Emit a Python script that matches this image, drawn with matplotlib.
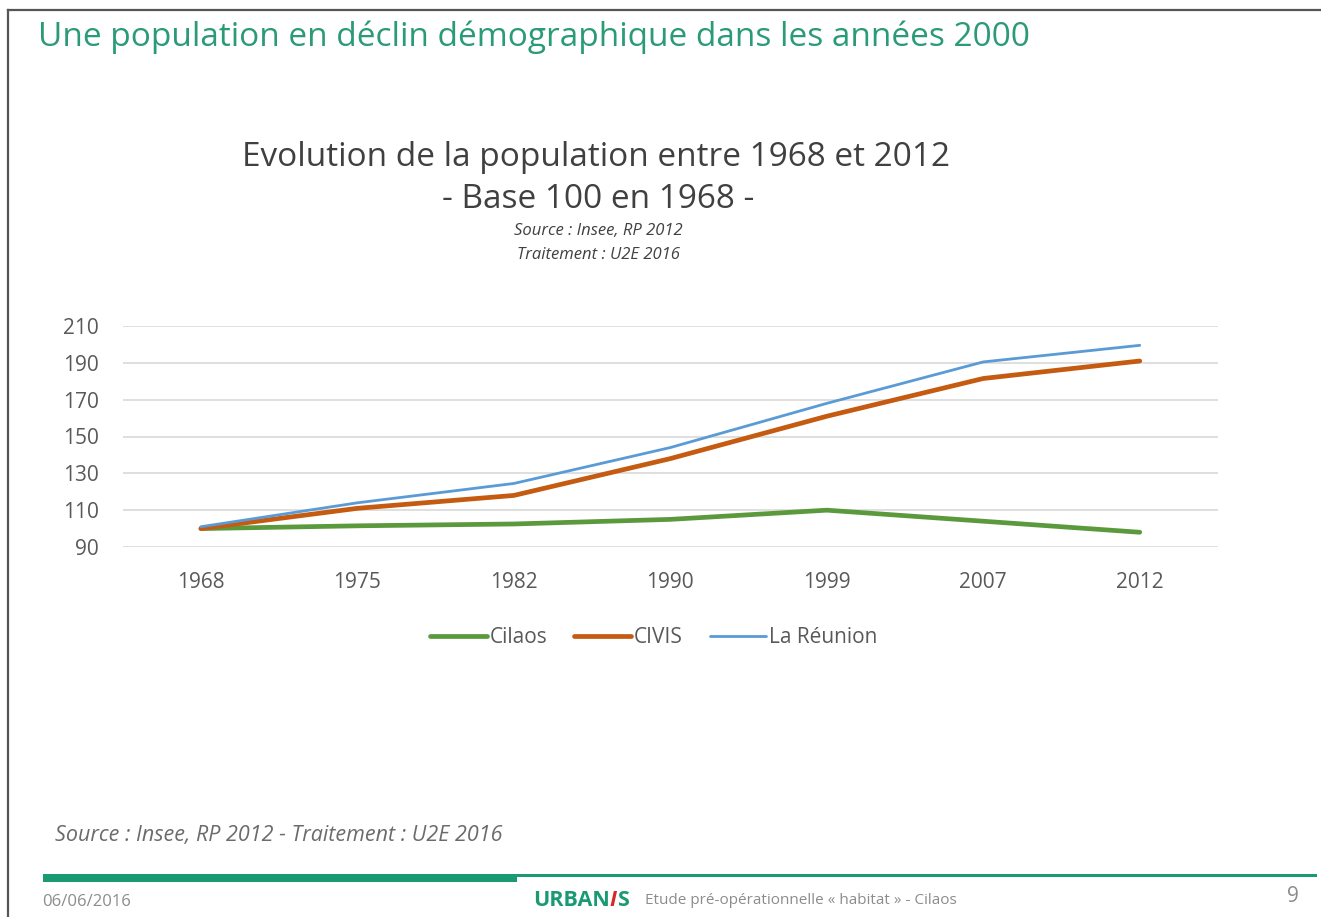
import matplotlib.pyplot as plt
from matplotlib.lines import Line2D
from matplotlib.patches import Rectangle

years = ["1968", "1975", "1982", "1990", "1999", "2007", "2012"]
cilaos = [100, 101.5, 102.5, 105, 110, 104, 98]
civis = [100, 111, 118, 138, 161, 181.5, 191]
reunion = [101, 114, 124.5, 144, 168, 190.5, 199.5]
yticks = [90, 110, 130, 150, 170, 190, 210]

W, H = 1321, 917
GREEN = "#2a9a78"
TEAL = "#1a9a72"
GREY = "#595959"
plt.rcParams["font.family"] = ["Open Sans", "DejaVu Sans"]

fig = plt.figure(figsize=(W / 100, H / 100), dpi=100)


def fx(px):
    return px / W


def fy(py):
    return 1 - py / H


# slide frame (top and left edges)
fig.lines.append(Line2D([fx(8), 1], [fy(10), fy(10)], transform=fig.transFigure,
                        color="#555555", lw=1.6))
fig.lines.append(Line2D([fx(8), fx(8)], [fy(10), 0], transform=fig.transFigure,
                        color="#555555", lw=1.6))

fig.text(fx(38), fy(37), "Une population en déclin démographique dans les années 2000",
         color=GREEN, fontsize=24, va="center", ha="left")

fig.text(fx(596), fy(157), "Evolution de la population entre 1968 et 2012",
         color="#404040", fontsize=24, ha="center", va="center")
fig.text(fx(598), fy(199), "- Base 100 en 1968 -",
         color="#404040", fontsize=24, ha="center", va="center")
fig.text(fx(598), fy(231), "Source : Insee, RP 2012", color="#404040",
         fontsize=12, style="italic", ha="center", va="center")
fig.text(fx(598), fy(255), "Traitement : U2E 2016", color="#404040",
         fontsize=12, style="italic", ha="center", va="center")

ax = fig.add_axes([fx(122.7), fy(547), (1218 - 122.7) / W, 221 / H])
x = range(len(years))
ax.plot(x, cilaos, color="#5b9a3c", lw=3.4, label="Cilaos", solid_capstyle="round")
ax.plot(x, civis, color="#c55a11", lw=3.4, label="CIVIS", solid_capstyle="round")
ax.plot(x, reunion, color="#5b9bd5", lw=2.0, label="La Réunion", solid_capstyle="round")
ax.set_xlim(-0.5, len(years) - 0.5)
ax.set_ylim(90, 210)
ax.set_yticks(yticks)
ax.set_xticks(list(x))
ax.set_xticklabels(years)
ax.grid(axis="y", color="#d9d9d9", lw=1.2)
ax.set_axisbelow(True)
for s in ax.spines.values():
    s.set_visible(False)
ax.tick_params(length=0, labelsize=15, colors=GREY)
ax.tick_params(axis="x", pad=18)
ax.tick_params(axis="y", pad=17)
ax.legend(loc="center", bbox_to_anchor=(0.485, -0.41), ncol=3, frameon=False,
          fontsize=15, labelcolor=GREY, handlelength=2.7, handletextpad=0.15,
          columnspacing=1.3)

fig.text(fx(55), fy(835), "Source : Insee, RP 2012 - Traitement : U2E 2016",
         color="#6b6b6b", fontsize=15.5, style="italic", va="center")

# footer
fig.patches.append(Rectangle((fx(43), fy(882)), fx(474), 8 / H, transform=fig.transFigure,
                             color=TEAL, lw=0))
fig.patches.append(Rectangle((fx(517), fy(876.5)), fx(800), 2.5 / H, transform=fig.transFigure,
                             color=TEAL, lw=0))
fig.text(fx(42), fy(902), "06/06/2016", color="#8c8c8c", fontsize=12, va="center")

renderer = fig.canvas.get_renderer()
t1 = fig.text(fx(533), fy(901), "URBAN", color=TEAL, fontsize=15.5, weight="bold", va="center")
bb = t1.get_window_extent(renderer)
t2 = fig.text(bb.x1 / W, fy(901), "I", color="#d62828", fontsize=15.5, weight="bold",
              style="italic", va="center")
bb = t2.get_window_extent(renderer)
fig.text(bb.x1 / W, fy(901), "S", color=TEAL, fontsize=15.5, weight="bold", va="center")

fig.text(fx(645), fy(900), "Etude pré-opérationnelle « habitat » - Cilaos",
         color="#8c8c8c", fontsize=11, va="center")
fig.text(fx(1287), fy(897), "9", color="#8c8c8c", fontsize=15, va="center")

fig.savefig("out.png", dpi=100)
